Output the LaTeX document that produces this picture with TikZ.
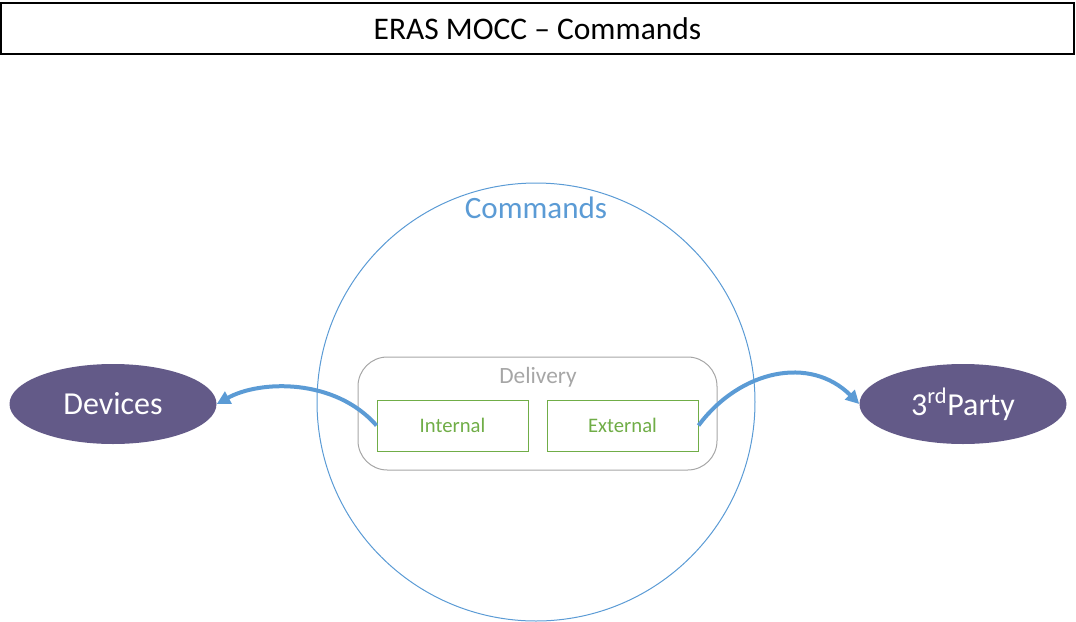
\documentclass[tikz,border=0pt]{standalone}
\usepackage{fontspec}
\setmainfont{Carlito}
\usetikzlibrary{arrows.meta,shapes.geometric}
\definecolor{cblue}{HTML}{5B9BD5}
\definecolor{cgreen}{HTML}{70AD47}
\definecolor{cgray}{HTML}{A6A6A6}
\definecolor{cpurple}{HTML}{635A88}
\tikzset{
  titlebox/.style={draw=black, line width=0.9pt, minimum width=804.75pt, minimum height=38.25pt, inner sep=0pt, font=\fontsize{23.6}{28}\selectfont},
  bigcircle/.style={circle, draw=cblue, line width=0.75pt, minimum size=328.5pt, inner sep=0pt},
  delivbox/.style={draw=cgray, line width=0.75pt, rounded corners=22pt, minimum width=269.25pt, minimum height=84.75pt, inner sep=0pt},
  greenbox/.style={draw=cgreen, line width=0.75pt, minimum width=113.25pt, minimum height=38.25pt, inner sep=0pt, text=cgreen, font=\fontsize{15.5}{18}\selectfont},
  actor/.style={ellipse, fill=cpurple, text=white, minimum width=155.25pt, minimum height=60pt, inner sep=0pt, font=\fontsize{24}{28}\selectfont},
  arr/.style={draw=cblue, line width=3pt, -{Triangle[length=10pt,width=10pt]}},
}
\begin{document}
\begin{tikzpicture}[x=0.75pt, y=-0.75pt]
\useasboundingbox (0,0) rectangle (1076,622);
\node[titlebox] (title) at (537.5,28.5) {ERAS MOCC – Commands};
\node[bigcircle] (circ) at (536,402) {};
\node[text=cblue, font=\fontsize{23.3}{27}\selectfont] (cmd) at (536,208) {Commands};
\node[delivbox] (deliv) at (537.5,413.5) {};
\node[text=cgray, font=\fontsize{17.5}{21}\selectfont] (delivlbl) at (538,377) {Delivery};
\node[greenbox] (int) at (452.5,425.5) {Internal};
\node[greenbox] (ext) at (622.5,425.5) {External};
\node[actor] (dev) at (113,404) {Devices};
\node[actor] (party) at (963,404) {3\textsuperscript{rd}Party};
\draw[arr] (int.west) .. controls (335,378) and (260,380) .. (dev.east);
\draw[arr] (ext.east) .. controls (740,370) and (810,355) .. (party.west);
\end{tikzpicture}
\end{document}
